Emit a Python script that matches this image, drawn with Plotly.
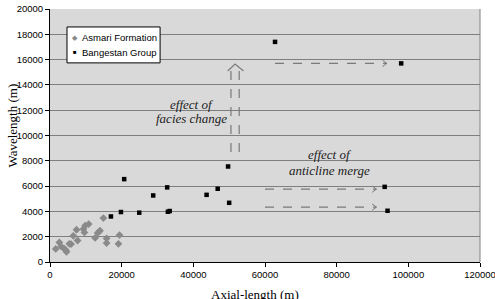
import plotly.graph_objects as go

# Asmari Formation (grey diamonds)
asmari_x = [1600, 2600, 3100, 3900, 4400, 4600, 5400, 5900, 6500, 7400, 7700,
            9300, 9600, 9800, 10800, 12600, 13300, 13950, 14900, 15800, 15800,
            19100, 19400]
asmari_y = [1030, 1550, 1230, 1070, 950, 810, 1440, 1420, 2070, 2550, 1700,
            2600, 2340, 2870, 3000, 1900, 2300, 2470, 3470, 1860, 1500,
            1440, 2130]

# Bangestan Group (black squares)
bang_x = [17000, 19800, 20700, 24900, 28800, 32700, 32900, 33400, 43700, 46800,
          49700, 50000, 62800, 98000, 93400, 94200]
bang_y = [3600, 3950, 6550, 3900, 5260, 5900, 3970, 4030, 5310, 5790,
          7550, 4680, 17400, 15700, 5940, 4050]

series_names = ["Asmari Formation", "Bangestan Group"]
x_ticks = [0, 20000, 40000, 60000, 80000, 100000, 120000]
y_ticks = list(range(0, 20001, 2000))

# annotation arrows (data coords): horizontal dashed arrows
h_arrows = [(62800, 94000, 15700), (60000, 91100, 5760), (60000, 91100, 4340)]
# vertical double-dashed arrow
v_arrow_x = [50500, 52800]
v_arrow_y = [8700, 15150]
v_tip = (51650, 15650)
v_wings = [(49600, 15100), (54000, 15100)]

fig = go.Figure()
fig.add_trace(go.Scatter(x=asmari_x, y=asmari_y, mode="markers", name=series_names[0],
                         marker=dict(symbol="diamond", size=6, color="#8a8a8a")))
fig.add_trace(go.Scatter(x=bang_x, y=bang_y, mode="markers", name=series_names[1],
                         marker=dict(symbol="square", size=4.5, color="#000000")))

arrow_col = "#7a7a7a"
shapes = []
for x0, x1, y in h_arrows:
    shapes.append(dict(type="line", x0=x0, x1=x1, y0=y, y1=y, xref="x", yref="y",
                       line=dict(color=arrow_col, width=1.2, dash="dash")))
    shapes.append(dict(type="path", xref="x", yref="y",
                       path=f"M {x1-1200},{y+250} L {x1},{y} L {x1-1200},{y-250}",
                       line=dict(color=arrow_col, width=1)))
for xv in v_arrow_x:
    shapes.append(dict(type="line", x0=xv, x1=xv, y0=v_arrow_y[0], y1=v_arrow_y[1],
                       xref="x", yref="y", line=dict(color=arrow_col, width=1.2, dash="dash")))
shapes.append(dict(type="path", xref="x", yref="y",
                   path=f"M {v_wings[0][0]},{v_wings[0][1]} L {v_tip[0]},{v_tip[1]} L {v_wings[1][0]},{v_wings[1][1]}",
                   line=dict(color=arrow_col, width=1.2)))
# right border of plot
shapes.append(dict(type="line", xref="paper", yref="paper", x0=1, x1=1, y0=0, y1=1,
                   line=dict(color="#808080", width=1)))
# legend box (paper coords)
lg_x0, lg_x1, lg_y0, lg_y1 = 0.0395, 0.256, 0.787, 0.929
shapes.append(dict(type="rect", xref="paper", yref="paper", x0=lg_x0, x1=lg_x1, y0=lg_y0, y1=lg_y1,
                   fillcolor="white", line=dict(color="#000", width=1), layer="above"))

serif = "Liberation Serif, Times New Roman, serif"
sans = "Liberation Sans, Arial, sans-serif"
note_font = dict(family=serif, size=13, color="#222")
annotations = [
    dict(x=39500, y=12420, xref="x", yref="y", text="<i>effect of</i>",
         showarrow=False, xanchor="center", yanchor="middle", font=note_font),
    dict(x=39500, y=11370, xref="x", yref="y", text="<i>facies change</i>",
         showarrow=False, xanchor="center", yanchor="middle", font=note_font),
    dict(x=78100, y=8470, xref="x", yref="y", text="<i>effect of</i>",
         showarrow=False, xanchor="center", yanchor="middle", font=note_font),
    dict(x=78100, y=7200, xref="x", yref="y", text="<i>anticline merge</i>",
         showarrow=False, xanchor="center", yanchor="middle", font=note_font),
    dict(x=0.477, y=-0.09, xref="paper", yref="paper", text="Axial-length (m)",
         showarrow=False, xanchor="center", yanchor="top",
         font=dict(family=serif, size=13, color="#000")),
    dict(x=-0.088, y=0.54, xref="paper", yref="paper", text="Wavelength (m)",
         showarrow=False, xanchor="center", yanchor="middle", textangle=-90,
         font=dict(family=serif, size=13, color="#000")),
    # legend entries
    dict(x=0.058, y=0.889, xref="paper", yref="paper", text="◆", showarrow=False,
         xanchor="center", yanchor="middle", font=dict(family=sans, size=7, color="#8a8a8a")),
    dict(x=0.07, y=0.889, xref="paper", yref="paper", text=series_names[0], showarrow=False,
         xanchor="left", yanchor="middle", font=dict(family=sans, size=9.5, color="#000")),
    dict(x=0.058, y=0.83, xref="paper", yref="paper", text="■", showarrow=False,
         xanchor="center", yanchor="middle", font=dict(family=sans, size=6, color="#000")),
    dict(x=0.07, y=0.83, xref="paper", yref="paper", text=series_names[1], showarrow=False,
         xanchor="left", yanchor="middle", font=dict(family=sans, size=9.5, color="#000")),
]

fig.update_layout(
    width=495, height=299,
    margin=dict(l=50, r=15, t=9, b=37, autoexpand=False),
    paper_bgcolor="white", plot_bgcolor="#d9d9d9",
    font=dict(family=sans, size=9.5, color="#000"),
    showlegend=False,
    shapes=shapes, annotations=annotations,
)
fig.update_xaxes(range=[0, 120000], tickvals=x_ticks, ticktext=[str(v) for v in x_ticks],
                 showgrid=False, zeroline=False, showline=True, linecolor="#000", linewidth=1,
                 ticks="outside", ticklen=4, tickcolor="#000", ticklabeloverflow="allow",
                 automargin=False)
fig.update_yaxes(range=[0, 20000], tickvals=y_ticks, ticktext=[str(v) for v in y_ticks],
                 showgrid=True, gridcolor="#7f7f7f", gridwidth=1, zeroline=False,
                 showline=True, linecolor="#000", linewidth=1,
                 ticks="outside", ticklen=4, tickcolor="#000", automargin=False)

fig.write_html("out.html")
